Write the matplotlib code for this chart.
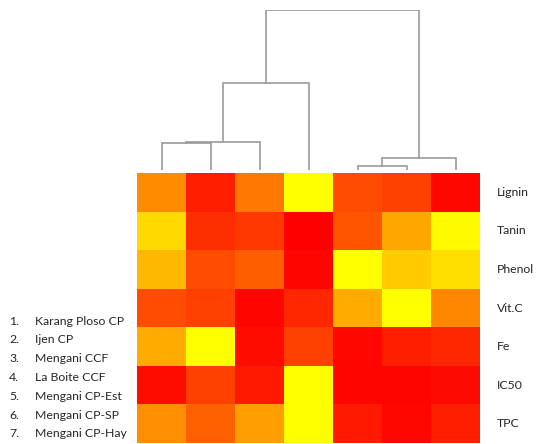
import matplotlib
matplotlib.use("Agg")
import matplotlib.pyplot as plt
import numpy as np

# Row labels (right side) and sample legend (left side)
row_labels = ["Lignin", "Tanin", "Phenol", "Vit.C", "Fe", "IC50", "TPC"]
samples = ["Karang Ploso CP", "Ijen CP", "Mengani CCF", "La Boite CCF",
           "Mengani CP-Est", "Mengani CP-SP", "Mengani CP-Hay"]

# Scaled values (0 = red, 1 = yellow), one list per row, columns in dendrogram order
lignin = [0.55, 0.12, 0.47, 1.00, 0.30, 0.25, 0.03]
tanin  = [0.85, 0.18, 0.22, 0.00, 0.33, 0.65, 0.98]
phenol = [0.72, 0.30, 0.37, 0.02, 1.00, 0.80, 0.87]
vitc   = [0.30, 0.25, 0.02, 0.15, 0.67, 1.00, 0.53]
fe     = [0.67, 1.00, 0.05, 0.25, 0.03, 0.12, 0.15]
ic50   = [0.05, 0.25, 0.10, 1.00, 0.02, 0.02, 0.04]
tpc    = [0.56, 0.38, 0.62, 1.00, 0.10, 0.03, 0.12]

# Column dendrogram linkage: (left, right, height); new clusters numbered 7, 8, ...
link_left   = [0, 7, 8, 4, 10, 9]
link_right  = [1, 2, 3, 5, 6, 11]
link_height = [26.7, 28.3, 86.7, 4.3, 12.3, 159.3]

W, H = 539, 444
fig = plt.figure(figsize=(W / 100, H / 100), dpi=100)

def ax_px(left, top, right, bottom):
    return fig.add_axes([left / W, 1 - bottom / H, (right - left) / W, (bottom - top) / H])

# Heatmap
data = np.array([lignin, tanin, phenol, vitc, fe, ic50, tpc])
ax = ax_px(137, 173, 480, 443)
ax.pcolormesh(np.arange(data.shape[1] + 1), np.arange(data.shape[0] + 1), data,
              cmap="autumn", vmin=0, vmax=1)
ax.set_xlim(0, data.shape[1])
ax.set_ylim(data.shape[0], 0)
ax.set_xticks([])
ax.set_yticks([])
for s in ax.spines.values():
    s.set_visible(False)

font = "Lato"
tc = "#262626"
fs = 8.8
for i, lab in enumerate(row_labels):
    ax.text(data.shape[1] + 0.35, i + 0.5, lab, ha="left", va="center",
            fontsize=fs, color=tc, family=font)

# Dendrogram
dax = ax_px(137, 10, 480, 170)
n = data.shape[1]
xpos = {i: i + 0.5 for i in range(n)}
ypos = {i: 0.0 for i in range(n)}
lc = "#9b9b9b"
for k, (a, b, h) in enumerate(zip(link_left, link_right, link_height)):
    xa, xb = xpos[a], xpos[b]
    dax.plot([xa, xa, xb, xb], [ypos[a], h, h, ypos[b]], color=lc, lw=1.2,
             solid_joinstyle="miter")
    xpos[n + k] = (xa + xb) / 2
    ypos[n + k] = h
dax.set_xlim(0, n)
dax.set_ylim(0, max(link_height))
dax.axis("off")

# Sample legend at left
for i, name in enumerate(samples):
    y = 321 + i * 18.8
    fig.text(9 / W, 1 - y / H, f"{i + 1}.", ha="left", va="center",
             fontsize=fs, color=tc, family=font)
    fig.text(35 / W, 1 - y / H, name, ha="left", va="center",
             fontsize=fs, color=tc, family=font)

fig.savefig("out.png", dpi=100)
